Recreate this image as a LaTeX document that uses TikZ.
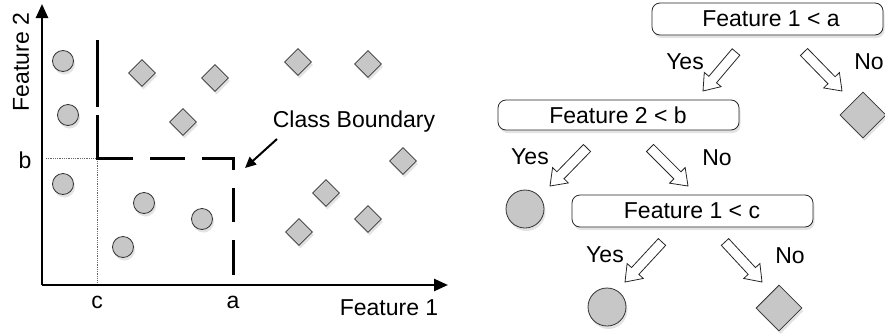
\documentclass[tikz,border=0pt]{standalone}
\usepackage{fontspec}
\setmainfont{Liberation Sans}
\usetikzlibrary{arrows.meta,shapes.geometric,shadows,calc}
\tikzset{
  shd/.style={drop shadow={opacity=0.22,shadow xshift=1.5pt,shadow yshift=-3pt}},
  pt/.style={circle,draw=black!80,fill=black!22,line width=0.8pt,minimum size=21pt,inner sep=0pt,shd},
  dm/.style={diamond,draw=black!80,fill=black!22,line width=0.8pt,minimum width=27pt,minimum height=27pt,inner sep=0pt,shd},
  leafc/.style={pt,minimum size=38pt},
  leafd/.style={dm,minimum width=46pt,minimum height=46pt},
  testbox/.style={draw=black!85,fill=white,rounded corners=8pt,line width=0.8pt,inner sep=0pt,shd},
  lbl/.style={font=\fontsize{23}{27}\selectfont,inner sep=0pt},
  axis/.style={line width=2.5pt,-{Triangle[length=14pt,width=12pt]}},
  bound/.style={line width=3pt},
  guide/.style={densely dotted,black!60,line width=0.8pt},
  barrow/.style={draw=black!85,fill=white,line width=0.8pt,line join=miter},
}
\newcommand\blockarrow[2]{%
  \coordinate (hb) at ($(#2)!15pt!(#1)$);
  \draw[barrow] ($(#1)!5pt!90:(#2)$) -- ($(hb)!5pt!90:(#2)$) -- ($(hb)!11pt!90:(#2)$) -- (#2)
    -- ($(hb)!11pt!-90:(#2)$) -- ($(hb)!5pt!-90:(#2)$) -- ($(#1)!5pt!-90:(#2)$) -- cycle;
}
\begin{document}
\begin{tikzpicture}[x=1pt,y=-1pt]
\useasboundingbox (0,0) rectangle (885,335);
% ---------- left plot ----------
\coordinate (O) at (42,285);
\coordinate (Ytop) at (42,4);
\coordinate (Xend) at (448,285);
\coordinate (B) at (97,158);
\coordinate (C) at (97,283);
\coordinate (Bl) at (46,158);
\draw[guide] (Bl) -- (B) -- (C);
\draw[axis] (O) -- (Ytop);
\draw[axis] (O) -- (Xend);
% dashed class boundary
\draw[bound] (97,40) -- (97,107);
\draw[bound,line join=miter] (97,115) -- (97,158) -- (133,158);
\draw[bound] (150,158) -- (185,158);
\draw[bound,line join=miter] (202,158) -- (233,158) -- (233,170);
\draw[bound] (233,188) -- (233,222);
\draw[bound] (233,240) -- (233,275);
% labels
\node[lbl,rotate=90] (f2) at (21,62) {Feature 2};
\node[lbl] (lb) at (25,160) {b};
\node[lbl] (lc) at (97,302) {c};
\node[lbl] (la) at (233,302) {a};
\node[lbl] (f1) at (389,308) {Feature 1};
\node[lbl] (cb) at (354,122) {Class Boundary};
\coordinate (cbs) at (277,139);
\coordinate (cbe) at (245,168);
\draw[line width=2pt,-{Triangle[length=11pt,width=10pt]}] (cbs) -- (cbe);
% circles
\node[pt] (c1) at (63,61) {};
\node[pt] (c2) at (68,115) {};
\node[pt] (c3) at (63,184) {};
\node[pt] (c4) at (144,203) {};
\node[pt] (c5) at (202,219) {};
\node[pt] (c6) at (123,247) {};
% diamonds
\node[dm] (d1) at (142,73) {};
\node[dm] (d2) at (215,78) {};
\node[dm] (d3) at (183,122) {};
\node[dm] (d4) at (298,62) {};
\node[dm] (d5) at (368,64) {};
\node[dm] (d6) at (403,161) {};
\node[dm] (d7) at (326,193) {};
\node[dm] (d8) at (299,232) {};
\node[dm] (d9) at (368,219) {};
% ---------- right tree ----------
\node[testbox,minimum width=231pt,minimum height=32pt] (t1) at (767.5,19) {};
\node[lbl] (t1l) at (771,19) {Feature 1 < a};
\node[testbox,minimum width=241pt,minimum height=30pt] (t2) at (618.5,115) {};
\node[lbl] (t2l) at (618,115) {Feature 2 < b};
\node[testbox,minimum width=241pt,minimum height=32pt] (t3) at (692.5,211) {};
\node[lbl] (t3l) at (692,211) {Feature 1 < c};
% leaves
\node[leafd] (L1) at (863,115) {};
\node[leafc] (L2) at (525,209) {};
\node[leafc] (L3) at (607,307) {};
\node[leafd] (L4) at (779,308) {};
% block arrows
\coordinate (a1s) at (736,52); \coordinate (a1e) at (703,91);
\coordinate (a2s) at (804,52); \coordinate (a2e) at (842,91);
\coordinate (a3s) at (587,148); \coordinate (a3e) at (550,186);
\coordinate (a4s) at (650,148); \coordinate (a4e) at (688,186);
\coordinate (a5s) at (662,242); \coordinate (a5e) at (625,282);
\coordinate (a6s) at (725,242); \coordinate (a6e) at (762,282);
\blockarrow{a1s}{a1e}
\blockarrow{a2s}{a2e}
\blockarrow{a3s}{a3e}
\blockarrow{a4s}{a4e}
\blockarrow{a5s}{a5e}
\blockarrow{a6s}{a6e}
% yes/no labels
\node[lbl] (y1) at (685,62) {Yes};
\node[lbl] (n1) at (869,62) {No};
\node[lbl] (y2) at (530,157) {Yes};
\node[lbl] (n2) at (717,158) {No};
\node[lbl] (y3) at (605,255) {Yes};
\node[lbl] (n3) at (790,256) {No};
\end{tikzpicture}
\end{document}
